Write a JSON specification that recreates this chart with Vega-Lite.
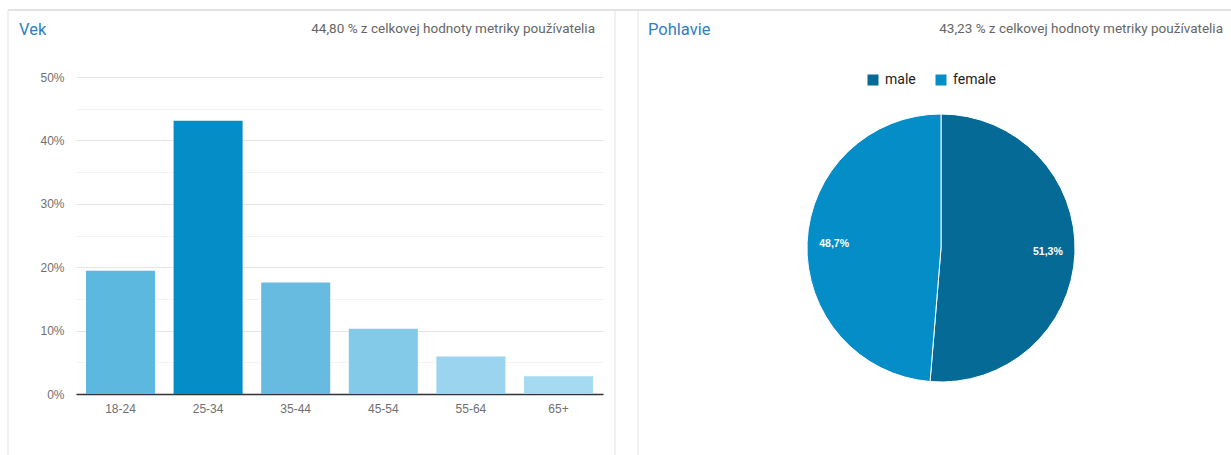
{
  "$schema": "https://vega.github.io/schema/vega-lite/v6.json",
  "padding": {"left": 7, "top": 9, "right": 0, "bottom": 0},
  "background": "white",
  "spacing": 204,
  "bounds": "flush",
  "resolve": {"scale": {"color": "independent"}, "legend": {"color": "independent"}},
  "config": {
    "view": {"stroke": null},
    "locale": {"number": {"decimal": ",", "thousands": " ", "grouping": [3], "currency": ["", " €"]}},
    "axis": {"labelFont": "Liberation Sans", "labelFontSize": 12, "labelColor": "#707070", "titleFont": "Liberation Sans"}
  },
  "hconcat": [
    {
      "width": 527,
      "height": 317,
      "layer": [
        {
          "data": {"values": [{}]},
          "mark": {"type": "rule", "color": "#e3e3e3", "strokeWidth": 2},
          "encoding": {"x": {"value": -68}, "x2": {"value": 1156}, "y": {"value": -67}, "y2": {"value": -67}}
        },
        {
          "data": {"values": [{"p": -68}, {"p": 539}, {"p": 562}]},
          "mark": {"type": "rule", "color": "#e3e3e3", "strokeWidth": 1},
          "encoding": {"x": {"field": "p", "type": "quantitative", "scale": null}, "y": {"value": -67}, "y2": {"value": 378}}
        },
        {
          "data": {"values": [{}]},
          "mark": {"type": "text", "text": "Vek", "font": "Roboto", "fontSize": 16.5, "color": "#2f7fc1", "align": "left", "baseline": "middle"},
          "encoding": {"x": {"value": -57}, "y": {"value": -47}}
        },
        {
          "data": {"values": [{}]},
          "mark": {"type": "text", "text": "44,80 % z celkovej hodnoty metriky používatelia", "font": "Roboto", "fontSize": 13.5, "color": "#666666", "align": "right", "baseline": "middle"},
          "encoding": {"x": {"value": 519}, "y": {"value": -48}}
        },
        {
          "data": {"values": [
            {"vek": "18-24", "podiel": 0.1945},
            {"vek": "25-34", "podiel": 0.431},
            {"vek": "35-44", "podiel": 0.176},
            {"vek": "45-54", "podiel": 0.103},
            {"vek": "55-64", "podiel": 0.059},
            {"vek": "65+", "podiel": 0.028}
          ]},
          "encoding": {
            "x": {"field": "vek", "type": "nominal", "sort": null, "scale": {"paddingInner": 0.212, "paddingOuter": 0.114},
              "axis": {"title": null, "labelAngle": 0, "ticks": false, "labelPadding": 9, "domainColor": "#333333", "domainWidth": 1.5, "grid": false}}
          },
          "layer": [
            {
              "mark": {"type": "bar", "opacity": 0},
              "encoding": {
                "y": {"field": "podiel", "type": "quantitative", "scale": {"domain": [0, 0.5], "nice": false},
                  "axis": {"orient": "right", "values": [0.05, 0.15, 0.25, 0.35, 0.45], "labels": false, "ticks": false, "domain": false, "grid": true, "gridColor": "#f3f3f3", "title": null}}
              }
            },
            {
              "mark": {"type": "bar"},
              "encoding": {
                "y": {"field": "podiel", "type": "quantitative", "scale": {"domain": [0, 0.5], "nice": false},
                  "axis": {"orient": "left", "title": null, "values": [0, 0.1, 0.2, 0.3, 0.4, 0.5], "format": ".0%", "ticks": false, "domain": false, "labelPadding": 12, "grid": true, "gridColor": "#e4e4e4"}},
                "color": {"field": "vek", "type": "nominal", "sort": null, "legend": null,
                  "scale": {"domain": ["18-24", "25-34", "35-44", "45-54", "55-64", "65+"], "range": ["#5db8df", "#058dc7", "#67bae0", "#82cae8", "#9bd4ef", "#a6daf1"]}}
              }
            }
          ],
          "resolve": {"axis": {"y": "independent"}}
        }
      ]
    },
    {
      "width": 268,
      "height": 342,
      "layer": [
        {
          "data": {"values": [{}]},
          "mark": {"type": "text", "text": "Pohlavie", "font": "Roboto", "fontSize": 16.5, "color": "#2f7fc1", "align": "left", "baseline": "middle"},
          "encoding": {"x": {"value": -159}, "y": {"value": -47}}
        },
        {
          "data": {"values": [{}]},
          "mark": {"type": "text", "text": "43,23 % z celkovej hodnoty metriky používatelia", "font": "Roboto", "fontSize": 13.5, "color": "#666666", "align": "right", "baseline": "middle"},
          "encoding": {"x": {"value": 416}, "y": {"value": -48}}
        },
        {
          "data": {"values": [
            {"pohlavie": "male", "podiel": 0.513},
            {"pohlavie": "female", "podiel": 0.487}
          ]},
          "encoding": {
            "theta": {"field": "podiel", "type": "quantitative", "stack": true},
            "order": {"field": "pohlavie", "sort": "descending"}
          },
          "layer": [
            {
              "mark": {"type": "arc", "outerRadius": 134, "stroke": "#ffffff", "strokeWidth": 1},
              "encoding": {
                "color": {"field": "pohlavie", "type": "nominal", "title": null,
                  "scale": {"domain": ["male", "female"], "range": ["#056a96", "#058dc7"]},
                  "legend": {"orient": "none", "legendX": 59, "legendY": -4, "direction": "horizontal", "symbolType": "square", "symbolSize": 121, "symbolStrokeWidth": 0, "labelFont": "Roboto", "labelFontSize": 14, "labelColor": "#222222", "columnPadding": 18, "labelOffset": 5}}
              }
            },
            {
              "mark": {"type": "text", "radius": 107, "color": "#ffffff", "font": "Liberation Sans", "fontSize": 10.5, "fontWeight": "bold"},
              "encoding": {"text": {"field": "podiel", "type": "quantitative", "format": ".1%"}}
            }
          ]
        }
      ]
    }
  ]
}
